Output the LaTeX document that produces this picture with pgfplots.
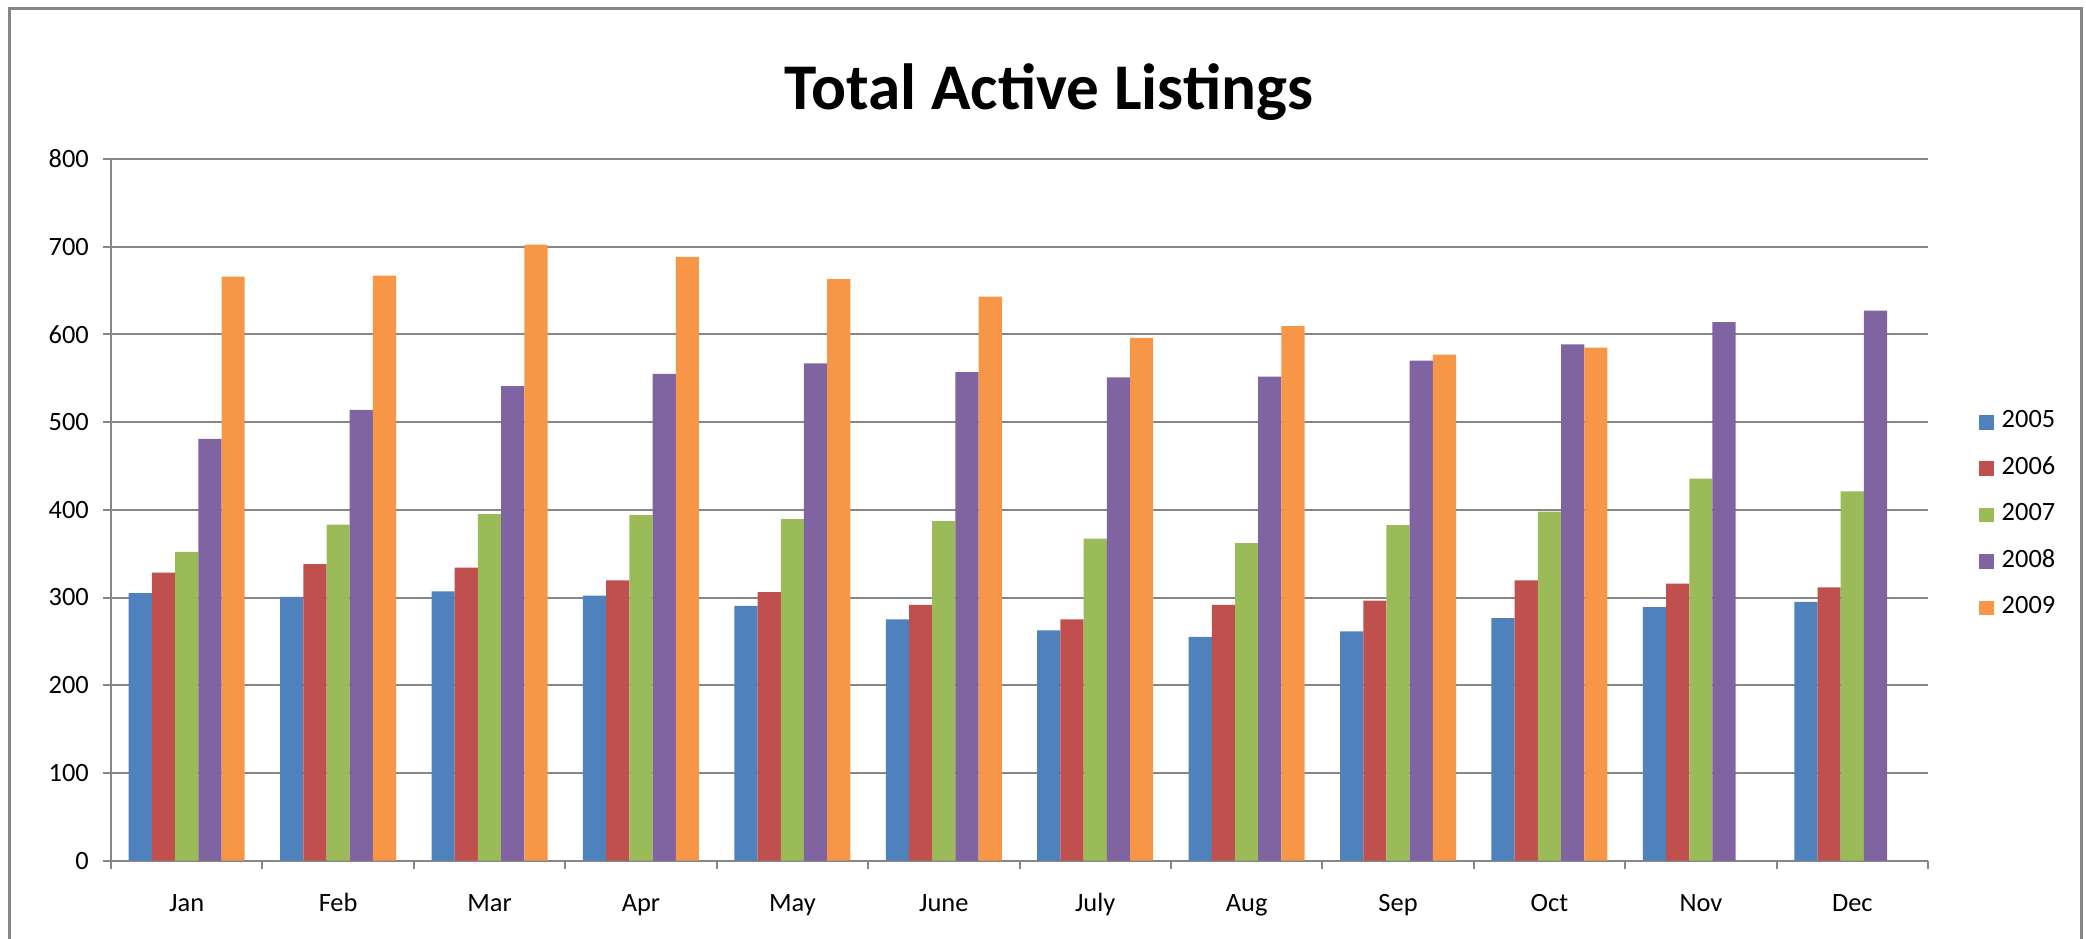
\documentclass[border=0pt]{standalone}
\usepackage{fontspec}
\setmainfont{Carlito}
\usepackage{pgfplots}
\pgfplotsset{compat=1.18}
\definecolor{c05}{HTML}{4F81BD}
\definecolor{c06}{HTML}{C0504D}
\definecolor{c07}{HTML}{9BBB59}
\definecolor{c08}{HTML}{8064A2}
\definecolor{c09}{HTML}{F79646}
\definecolor{gridc}{HTML}{868686}
\begin{document}
\begin{tikzpicture}
\useasboundingbox (-27.75pt,-19.6pt) rectangle (493.75pt,215.15pt);
\draw[color=gridc, line width=0.75pt] (-25.25pt,-25pt) -- (-25.25pt,212.9pt) -- (492.5pt,212.9pt) -- (492.5pt,-25pt);
\node[anchor=base, font=\fontsize{16.3}{19}\selectfont\bfseries] at (234.5pt,187.65pt) {Total Active Listings};
\begin{axis}[
  at={(0pt,0pt)}, anchor=south west,
  scale only axis, width=454.25pt, height=175.4pt,
  ymin=0, ymax=800, xmin=-0.5, xmax=11.5,
  ybar=0pt, bar width=5.8pt,
  axis x line*=bottom, axis y line*=left,
  axis line style={draw=gridc, line width=0.5pt, -},
  ymajorgrids, grid style={draw=gridc, line width=0.5pt},
  ytick={0,100,...,800},
  xtick={-0.5,0.5,...,11.5},
  x tick label as interval,
  xticklabels={Jan,Feb,Mar,Apr,May,June,July,Aug,Sep,Oct,Nov,Dec},
  tick align=outside, major tick length=2pt,
  tick style={draw=gridc, line width=0.5pt},
  /pgf/number format/assume math mode=true,
  ticklabel style={font=\fontsize{6.6}{8}\selectfont},
  xticklabel style={text height=5pt, text depth=1.5pt, yshift=-2.2pt},
  legend style={at={(axis description cs:1.0278,0.4925)}, anchor=west, draw=none, fill=none,
    font=\fontsize{6.6}{8}\selectfont, row sep=5.7pt, inner sep=0pt, nodes={inner sep=0pt},
    /tikz/every odd column/.append style={column sep=2pt}},
  legend cell align=left,
  legend image code/.code={\fill[#1] (0pt,-1.8pt) rectangle (3.6pt,1.8pt);},
]
\addplot[fill=c05, draw=none] coordinates {(0,305) (1,300.7) (2,307) (3,302) (4,290.5) (5,275) (6,262.5) (7,255) (8,261.5) (9,276.5) (10,289) (11,295)};
\addplot[fill=c06, draw=none] coordinates {(0,328.5) (1,338) (2,334) (3,319.5) (4,306) (5,291.5) (6,275) (7,291.5) (8,296.4) (9,319.5) (10,315.8) (11,311.5)};
\addplot[fill=c07, draw=none] coordinates {(0,352) (1,383) (2,395) (3,394) (4,389.5) (5,387) (6,367) (7,362) (8,382.5) (9,398) (10,435.5) (11,421)};
\addplot[fill=c08, draw=none] coordinates {(0,481) (1,514) (2,541) (3,555) (4,567) (5,557) (6,551) (7,552) (8,570) (9,588.5) (10,614) (11,627)};
\addplot[fill=c09, draw=none] coordinates {(0,666) (1,667) (2,702.5) (3,688.5) (4,663) (5,643) (6,596) (7,609.5) (8,577) (9,585)};
\legend{2005,2006,2007,2008,2009}
\end{axis}
\end{tikzpicture}
\end{document}
